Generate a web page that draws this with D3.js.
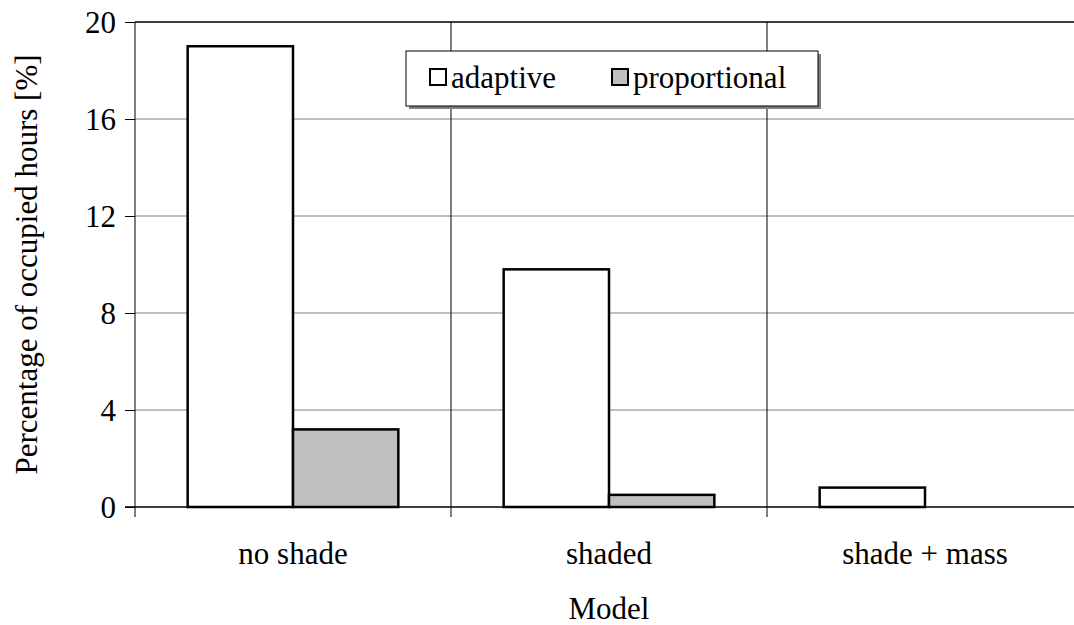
<!DOCTYPE html>
<html>
<head>
<meta charset="utf-8">
<script src="https://cdn.jsdelivr.net/npm/d3@7"></script>
<style>
body { margin: 0; background: #fff; }
svg text { font-family: 'Times New Roman', 'Liberation Serif', serif; fill: #000; }
</style>
</head>
<body>
<div id="chart"></div>
<script>
const models = ["no shade", "shaded", "shade + mass"]
const seriesNames = ["adaptive", "proportional"]
const adaptive = [19, 9.8, 0.8]
const proportional = [3.2, 0.5, 0]
const yTicks = [0, 4, 8, 12, 16, 20]
const colors = ["#ffffff", "#c0c0c0"]

const width = 1074
const height = 625
const margin = { top: 22, bottom: 118, left: 135, right: -9 }
const serif = "'Times New Roman', 'Liberation Serif', serif"

const svg = d3.select("div#chart").append("svg").attr("width", width).attr("height", height)
    .attr("font-family", serif)

const x = d3.scaleBand().domain(models).range([margin.left, width - margin.right]).padding(0)
const xInner = d3.scaleBand().domain(seriesNames).range([0, x.bandwidth()])
    .paddingInner(0).paddingOuter(0.5)
const y = d3.scaleLinear().domain([0, 20]).range([height - margin.bottom, margin.top])

const data = models.map((m, i) => ({ model: m, values: [adaptive[i], proportional[i]] }))

// horizontal gridlines
const grid = svg.append("g").attr("class", "grid")
grid.selectAll("line").data(yTicks.filter(t => t > 0)).join("line")
    .attr("x1", margin.left).attr("x2", width)
    .attr("y1", d => y(d)).attr("y2", d => y(d))
    .attr("stroke", d => d === 20 ? "#000" : "#808080")
    .attr("stroke-width", d => d === 20 ? 1.5 : 1)

// vertical category separators
grid.selectAll("line.v").data(models.slice(1)).join("line").attr("class", "v")
    .attr("x1", d => x(d)).attr("x2", d => x(d))
    .attr("y1", margin.top).attr("y2", y(0) + 10)
    .attr("stroke", "#000").attr("stroke-width", 1)

// y axis
const yAxis = d3.axisLeft(y).tickValues(yTicks).tickSize(10).tickPadding(9)
const yAxisGroup = svg.append("g").attr("transform", `translate(${margin.left},0)`).call(yAxis)
yAxisGroup.attr("font-family", serif).attr("font-size", 31)
yAxisGroup.select(".domain").remove()
yAxisGroup.selectAll("line").attr("stroke", "#000")
yAxisGroup.selectAll("text").attr("dy", "0.34em")
svg.append("line").attr("x1", margin.left).attr("x2", margin.left)
    .attr("y1", margin.top).attr("y2", y(0) + 10).attr("stroke", "#000")

// bars
const groups = svg.append("g").selectAll("g").data(data).join("g")
    .attr("transform", d => `translate(${x(d.model)},0)`)
groups.selectAll("rect").data(d => d.values.map((v, j) => ({ s: seriesNames[j], v: v, j: j })))
    .join("rect")
    .attr("x", d => xInner(d.s))
    .attr("width", xInner.bandwidth())
    .attr("y", d => y(d.v))
    .attr("height", d => y(0) - y(d.v))
    .attr("fill", d => colors[d.j])
    .attr("stroke", "#000")
    .attr("stroke-width", d => d.v > 0 ? 2.5 : 0)

// zero line
svg.append("line").attr("x1", margin.left - 10).attr("x2", width)
    .attr("y1", y(0)).attr("y2", y(0)).attr("stroke", "#000").attr("stroke-width", 1.5)

// category labels
svg.append("g").selectAll("text").data(models).join("text")
    .attr("x", d => x(d) + x.bandwidth() / 2)
    .attr("y", 564)
    .attr("text-anchor", "middle")
    .attr("font-size", 31)
    .text(d => d)

// axis titles
svg.append("text").attr("x", (margin.left + width - margin.right) / 2).attr("y", 619)
    .attr("text-anchor", "middle").attr("font-size", 31).text("Model")
svg.append("text")
    .attr("transform", `translate(37,${(margin.top + y(0)) / 2}) rotate(-90)`)
    .attr("text-anchor", "middle").attr("font-size", 31)
    .text("Percentage of occupied hours [%]")

// legend
const legend = svg.append("g").attr("transform", "translate(406,51)")
legend.append("rect").attr("x", 3).attr("y", 3).attr("width", 412).attr("height", 55).attr("fill", "#808080")
legend.append("rect").attr("width", 412).attr("height", 55).attr("fill", "#fff").attr("stroke", "#000")
const legendX = [24, 206]
const item = legend.selectAll("g.item").data(seriesNames).join("g").attr("class", "item")
    .attr("transform", (d, i) => `translate(${legendX[i]},0)`)
item.append("rect").attr("y", 18).attr("width", 16).attr("height", 16)
    .attr("fill", (d, i) => colors[i]).attr("stroke", "#000").attr("stroke-width", 2)
item.append("text").attr("x", 21).attr("y", 37).attr("font-size", 31).text(d => d)
</script>
</body>
</html>
